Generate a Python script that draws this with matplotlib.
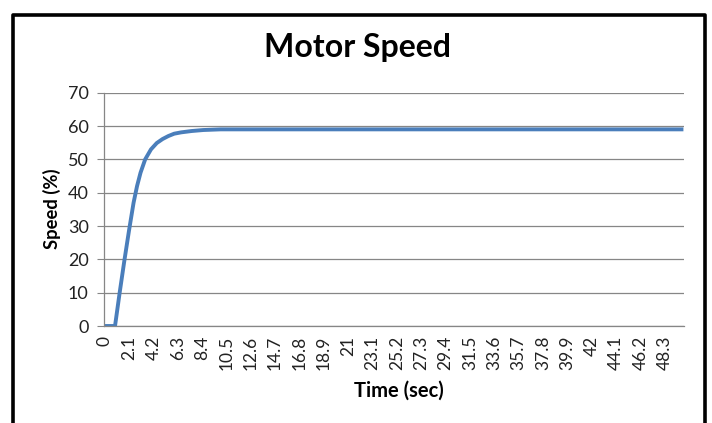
import matplotlib.pyplot as plt
from matplotlib.lines import Line2D

# speed response (time in sec, speed in %)
time_s = [0, 0.9, 1.3, 1.7, 2.1, 2.5, 2.8, 3.1, 3.5, 4.0, 4.5, 5.0, 5.5,
          6.0, 6.6, 7.5, 8.5, 10.0, 49.9]
speed = [0, 0, 10, 19.5, 28.5, 37, 42, 46, 50, 53, 54.9, 56.1, 57.0,
         57.7, 58.1, 58.5, 58.8, 59.0, 59.0]

tick_times = [round(2.1 * i, 1) for i in range(24)]
tick_labels = ['{:g}'.format(t) for t in tick_times]
y_ticks = [0, 10, 20, 30, 40, 50, 60, 70]

plt.rcParams['font.family'] = ['Lato', 'DejaVu Sans']
grey = '#868686'

fig = plt.figure(figsize=(7.12, 4.23), dpi=100)
ax = fig.add_axes([104 / 712, 1 - 326 / 423, 580 / 712, 233.3 / 423])

ax.plot(time_s, speed, color='#4a7ebb', lw=2.8, solid_capstyle='butt',
        solid_joinstyle='round')

ax.set_xlim(-0.05, 49.95)
ax.set_ylim(0, 70)
ax.set_yticks(y_ticks)
ax.set_xticks(tick_times)
ax.set_xticklabels(tick_labels, rotation=90, va='top', ha='center')
ax.tick_params(axis='x', length=0, pad=7, labelsize=12.5, labelcolor='#222222')
ax.tick_params(axis='y', length=5, width=0.8, color=grey, pad=6,
               labelsize=13, labelcolor='#222222')
ax.grid(axis='y', color=grey, lw=0.9)
ax.set_axisbelow(True)
for side in ['top', 'right']:
    ax.spines[side].set_visible(False)
for side in ['left', 'bottom']:
    ax.spines[side].set_color(grey)
    ax.spines[side].set_linewidth(0.9)

fig.text(357 / 712, 1 - 48 / 423, 'Motor Speed', fontsize=23,
         fontweight='bold', ha='center', va='center')
fig.text(399 / 712, 1 - 391 / 423, 'Time (sec)', fontsize=14.5,
         fontweight='bold', ha='center', va='center')
fig.text(52 / 712, 1 - 209 / 423, 'Speed (%)', fontsize=13.2,
         fontweight='bold', ha='center', va='center', rotation=90)

# black chart frame, open at the bottom edge of the picture
fx = [12.5 / 712, 12.5 / 712, 705 / 712, 705 / 712]
fy = [-0.05, 1 - 15 / 423, 1 - 15 / 423, -0.05]
fig.add_artist(Line2D(fx, fy, color='black', lw=2.6,
                      transform=fig.transFigure))

fig.savefig('out.png', dpi=100)
